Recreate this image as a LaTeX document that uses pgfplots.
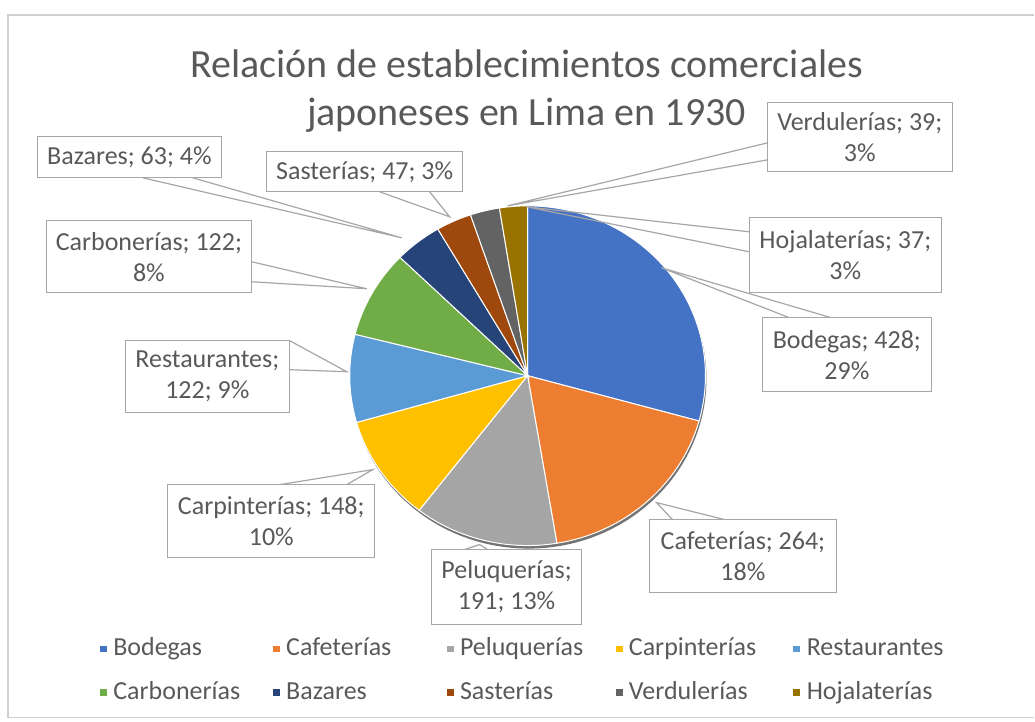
\documentclass[border=0pt]{standalone}
\usepackage{pgfplots}
\pgfplotsset{compat=1.18}
\usepackage{pgfplotstable}
\usepackage{fontspec}
\setmainfont{Carlito}

% Excel office palette
\definecolor{c0}{HTML}{4472C4}
\definecolor{c1}{HTML}{ED7D31}
\definecolor{c2}{HTML}{A5A5A5}
\definecolor{c3}{HTML}{FFC000}
\definecolor{c4}{HTML}{5B9BD5}
\definecolor{c5}{HTML}{70AD47}
\definecolor{c6}{HTML}{264478}
\definecolor{c7}{HTML}{9E480E}
\definecolor{c8}{HTML}{636363}
\definecolor{c9}{HTML}{997300}
\definecolor{txt}{HTML}{595959}
\definecolor{boxgray}{HTML}{A6A6A6}
\definecolor{framegray}{HTML}{D0D0D0}

% establecimientos, clockwise from 12 o'clock
\pgfplotstableread{
value
428
264
191
148
122
122
63
47
39
37
}\piedata

\begin{document}
\begin{tikzpicture}[
    lbl/.style={draw=boxgray, fill=white, text=txt, align=center, inner sep=0pt,
      font=\fontsize{13}{15.5}\selectfont},
    lead/.style={draw=boxgray, line width=0.6pt},
    leg/.style={text=txt, anchor=base west, inner sep=0pt, font=\fontsize{13}{15}\selectfont}]
  % slice angles from the table
  \xdef\tot{0}
  \foreach \i in {0,...,9}{%
    \pgfplotstablegetelem{\i}{value}\of\piedata
    \pgfmathparse{\tot+\pgfplotsretval}\xdef\tot{\pgfmathresult}}
  \xdef\cumsum{0}
  \foreach \i in {0,...,9}{%
    \pgfplotstablegetelem{\i}{value}\of\piedata
    \pgfmathsetmacro\s{90-360*(\cumsum/\tot)}%
    \pgfmathparse{\cumsum+\pgfplotsretval}\xdef\cumsum{\pgfmathresult}%
    \pgfmathsetmacro\e{90-360*(\cumsum/\tot)}%
    \expandafter\xdef\csname sa\i\endcsname{\s}%
    \expandafter\xdef\csname ea\i\endcsname{\e}}

  \begin{axis}[
      width=517.5pt, height=361pt, scale only axis,
      xmin=0, xmax=1035, ymin=0, ymax=722,
      hide axis, clip=false,
    ]
    % keep the whole canvas
    \path (axis cs:0,0) rectangle (axis cs:1035,722);

    % frame
    \draw[framegray, line width=0.8pt] (axis cs:1035,707) -- (axis cs:8,707)
      -- (axis cs:8,4) -- (axis cs:1035,4);

    % title
    \node[text=txt, align=center, font=\fontsize{20}{24}\selectfont]
      at (axis cs:527,631) {Relación de establecimientos comerciales\\japoneses en Lima en 1930};

    % shadow
    \fill[black, opacity=0.55] (axis cs:529,343) ellipse [x radius=89pt, y radius=85pt];

    % slices
    \pgfplotsinvokeforeach{0,...,9}{
      \fill[c#1, draw=white, line width=0.5pt] (axis cs:528,346)
        -- ++({89pt*cos(\csname sa#1\endcsname)},{85pt*sin(\csname sa#1\endcsname)})
        arc [start angle={\csname sa#1\endcsname}, end angle={\csname ea#1\endcsname},
             x radius=89pt, y radius=85pt] -- cycle;
    }

    % leader lines
    \draw[lead] (axis cs:790,404) -- (axis cs:662,454) -- (axis cs:832,404);
    \draw[lead] (axis cs:673,202) -- (axis cs:657,219) -- (axis cs:725,202);
    \draw[lead] (axis cs:465,172) -- (axis cs:480,177) -- (axis cs:488,172);
    \draw[lead] (axis cs:280,237) -- (axis cs:373,252) -- (axis cs:347,237);
    \draw[lead] (axis cs:290,381) -- (axis cs:347,350) -- (axis cs:290,352);
    \draw[lead] (axis cs:252,460) -- (axis cs:367,433) -- (axis cs:252,440);
    \draw[lead] (axis cs:143,544) -- (axis cs:402,484) -- (axis cs:193,544);
    \draw[lead] (axis cs:380,530) -- (axis cs:450,505) -- (axis cs:430,530);
    \draw[lead] (axis cs:768,579) -- (axis cs:508,516) -- (axis cs:768,562);
    \draw[lead] (axis cs:750,490) -- (axis cs:527,515) -- (axis cs:750,470);

    % data labels
    \node[lbl, minimum width=84.5pt, minimum height=37pt] at (axis cs:847.5,367) {Bodegas; 428;\\29\%};
    \node[lbl, minimum width=93.5pt, minimum height=36.5pt] at (axis cs:743.5,165.5) {Cafeterías; 264;\\18\%};
    \node[lbl, minimum width=75pt, minimum height=37.5pt] at (axis cs:507,134.5) {Peluquerías;\\191; 13\%};
    \node[lbl, minimum width=103.5pt, minimum height=36.5pt] at (axis cs:271.5,200.5) {Carpinterías; 148;\\10\%};
    \node[lbl, minimum width=82.5pt, minimum height=36pt] at (axis cs:207.5,345) {Restaurantes;\\122; 9\%};
    \node[lbl, minimum width=103pt, minimum height=36pt] at (axis cs:149,465) {Carbonerías; 122;\\8\%};
    \node[lbl, minimum width=92.5pt, minimum height=20.5pt] at (axis cs:129.5,564.5) {Bazares; 63; 4\%};
    \node[lbl, minimum width=98pt, minimum height=20pt] at (axis cs:365,550) {Sasterías; 47; 3\%};
    \node[lbl, minimum width=92.5pt, minimum height=35pt] at (axis cs:860.5,585) {Verdulerías; 39;\\3\%};
    \node[lbl, minimum width=96pt, minimum height=37.5pt] at (axis cs:846,466.5) {Hojalaterías; 37;\\3\%};

    % legend
    \fill[c0] (axis cs:100,69) rectangle (axis cs:107,76);
    \node[leg] at (axis cs:113,66) {Bodegas};
    \fill[c1] (axis cs:273,69) rectangle (axis cs:280,76);
    \node[leg] at (axis cs:286,66) {Cafeterías};
    \fill[c2] (axis cs:447,69) rectangle (axis cs:454,76);
    \node[leg] at (axis cs:460,66) {Peluquerías};
    \fill[c3] (axis cs:616,69) rectangle (axis cs:623,76);
    \node[leg] at (axis cs:629,66) {Carpinterías};
    \fill[c4] (axis cs:794,69) rectangle (axis cs:801,76);
    \node[leg] at (axis cs:807,66) {Restaurantes};
    \fill[c5] (axis cs:100,25) rectangle (axis cs:107,32);
    \node[leg] at (axis cs:113,22) {Carbonerías};
    \fill[c6] (axis cs:273,25) rectangle (axis cs:280,32);
    \node[leg] at (axis cs:286,22) {Bazares};
    \fill[c7] (axis cs:447,25) rectangle (axis cs:454,32);
    \node[leg] at (axis cs:460,22) {Sasterías};
    \fill[c8] (axis cs:616,25) rectangle (axis cs:623,32);
    \node[leg] at (axis cs:629,22) {Verdulerías};
    \fill[c9] (axis cs:794,25) rectangle (axis cs:801,32);
    \node[leg] at (axis cs:807,22) {Hojalaterías};
  \end{axis}
\end{tikzpicture}
\end{document}
